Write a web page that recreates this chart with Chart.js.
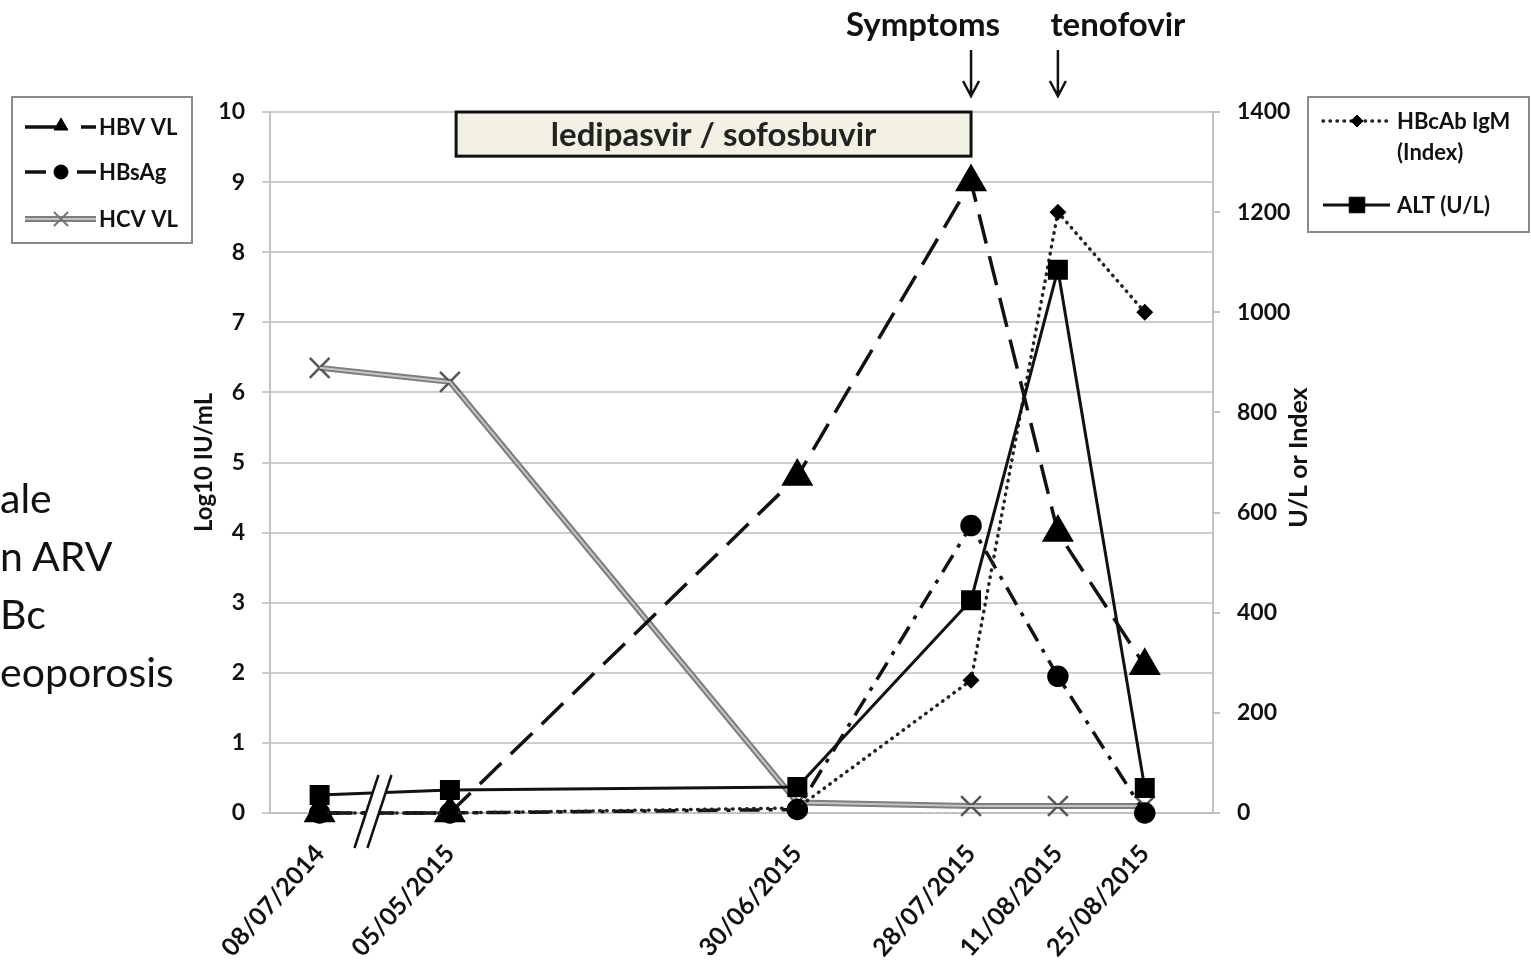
<!DOCTYPE html>
<html lang="en">
<head>
  <meta charset="UTF-8" />
  <title>HBV reactivation during ledipasvir / sofosbuvir</title>
  <script src="https://cdn.jsdelivr.net/npm/chart.js"></script>
  <style>
    body { margin: 0; background: #fff; font-family: Lato, "Open Sans", sans-serif; }
    #wrap { position: absolute; left: 0; top: 0; width: 1531px; height: 967px; overflow: hidden; }
    #side { position: absolute; left: 0; top: 469px; font-size: 41px; line-height: 58px; color: #111; white-space: pre; }
  </style>
</head>
<body>
  <div id="wrap">
    <div id="side">ale
n ARV
Bc
eoporosis</div>
    <canvas id="chart" width="1531" height="967"></canvas>
  </div>

  <script>
    // visit dates, placed on a day axis counted from 05/05/2015
    // (the 2014 visit sits behind the axis break, so it is pulled in)
    const dateLabels = ['08/07/2014', '05/05/2015', '30/06/2015', '28/07/2015', '11/08/2015', '25/08/2015'];
    const dayPos = [-21, 0, 56, 84, 98, 112];

    // left axis, Log10 IU/mL
    const hbvVL = [0, 0, 4.8, 9.0, 4.0, 2.1];
    const hbsAg = [0, 0, 0.05, 4.1, 1.95, 0];
    const hcvVL = [6.35, 6.15, 0.15, 0.1, 0.1, 0.1];

    // right axis, U/L or Index
    const hbcabIgm = [0, 0, 10, 265, 1200, 1000];
    const alt = [36, 46, 52, 425, 1085, 50];

    // therapy period and events, in days
    const therapyFrom = 1, therapyTo = 84;
    const breakAt = -12;

    const pts = vals => vals.map((v, i) => ({ x: dayPos[i], y: v }));
    const sans = 'Lato, "Open Sans", sans-serif';

    const datasets = [
      { label: 'ALT (U/L)', data: pts(alt), yAxisID: 'yR', borderColor: '#111', borderWidth: 3,
        pointStyle: 'rect', pointRadius: 12, pointBackgroundColor: '#000', pointBorderColor: '#000' },
      { label: 'HBcAb IgM (Index)', data: pts(hbcabIgm), yAxisID: 'yR', borderColor: '#222', borderWidth: 3.5,
        borderDash: [0.5, 6.5], borderCapStyle: 'round',
        pointStyle: 'rectRot', pointRadius: 6, pointBackgroundColor: '#000', pointBorderColor: '#000' },
      { label: 'HBV VL', data: pts(hbvVL), yAxisID: 'yL', borderColor: '#111', borderWidth: 3.5,
        borderDash: [30, 13],
        pointStyle: 'triangle', pointRadius: 15, pointBackgroundColor: '#000', pointBorderColor: '#000' },
      { label: 'HBsAg', data: pts(hbsAg), yAxisID: 'yL', borderColor: '#111', borderWidth: 3.5,
        borderDash: [20, 9, 4, 9],
        pointStyle: 'circle', pointRadius: 9, pointBackgroundColor: '#000', pointBorderColor: '#000' },
      { label: 'hcv-inner', data: pts(hcvVL), yAxisID: 'yL', borderColor: '#c4c4c4', borderWidth: 2,
        pointRadius: 0 },
      { label: 'HCV VL', data: pts(hcvVL), yAxisID: 'yL', borderColor: '#7d7d7d', borderWidth: 6,
        pointStyle: 'crossRot', pointRadius: 14, pointBorderWidth: 2.5, pointBorderColor: '#555', pointBackgroundColor: '#555' }
    ];
    datasets.forEach(d => { d.tension = 0; d.clip = false; d.fill = false; });

    function drawMarker(ctx, style, r, x, y, color, bw) {
      ctx.save();
      ctx.fillStyle = color; ctx.strokeStyle = color; ctx.lineWidth = bw;
      Chart.helpers.drawPoint(ctx, { pointStyle: style, radius: r, borderWidth: bw, rotation: 0 }, x, y);
      ctx.restore();
    }

    // legend sample: list of [x0, x1] segments in the dataset's stroke
    function sample(ctx, ds, segs, y, dash) {
      ctx.save();
      ctx.strokeStyle = ds.borderColor;
      ctx.lineWidth = ds.borderWidth;
      ctx.lineCap = ds.borderCapStyle || 'butt';
      ctx.setLineDash(dash || []);
      ctx.beginPath();
      segs.forEach(([a, b]) => { ctx.moveTo(a, y); ctx.lineTo(b, y); });
      ctx.stroke();
      ctx.restore();
    }

    const annotate = {
      id: 'annotate',
      afterDraw(chart) {
        const ctx = chart.ctx;
        const x = chart.scales.x, yL = chart.scales.yL;
        const area = chart.chartArea;
        const y0 = yL.getPixelForValue(0);
        ctx.save();

        // therapy box
        const bx0 = x.getPixelForValue(therapyFrom), bx1 = x.getPixelForValue(therapyTo);
        const by0 = yL.getPixelForValue(10), by1 = yL.getPixelForValue(9.37);
        ctx.fillStyle = '#f3f1e3';
        ctx.fillRect(bx0, by0, bx1 - bx0, by1 - by0);
        ctx.strokeStyle = '#111'; ctx.lineWidth = 3;
        ctx.strokeRect(bx0, by0, bx1 - bx0, by1 - by0);
        ctx.fillStyle = '#222';
        ctx.font = 'bold 33px ' + sans;
        ctx.textAlign = 'center'; ctx.textBaseline = 'middle';
        ctx.fillText('ledipasvir / sofosbuvir', (bx0 + bx1) / 2, (by0 + by1) / 2 + 1);

        // events with arrows
        const events = [
          { text: 'Symptoms', at: dayPos[3], dx: -48 },
          { text: 'tenofovir', at: dayPos[4], dx: 60 }
        ];
        ctx.font = 'bold 33px ' + sans;
        ctx.textBaseline = 'alphabetic';
        events.forEach(ev => {
          const px = x.getPixelForValue(ev.at);
          ctx.fillStyle = '#111';
          ctx.fillText(ev.text, px + ev.dx, 36);
          ctx.strokeStyle = '#111'; ctx.lineWidth = 2.5;
          ctx.beginPath();
          ctx.moveTo(px, 50); ctx.lineTo(px, area.top - 16);
          ctx.moveTo(px - 8, area.top - 31); ctx.lineTo(px, area.top - 16); ctx.lineTo(px + 8, area.top - 31);
          ctx.stroke();
        });

        // axis break
        const kx = x.getPixelForValue(breakAt);
        ctx.fillStyle = '#fff';
        ctx.beginPath();
        ctx.moveTo(kx - 21, y0 + 35); ctx.lineTo(kx + 3, y0 - 38);
        ctx.lineTo(kx + 16, y0 - 38); ctx.lineTo(kx - 8, y0 + 35); ctx.closePath();
        ctx.fill();
        ctx.strokeStyle = '#111'; ctx.lineWidth = 2.5;
        ctx.beginPath();
        ctx.moveTo(kx - 21, y0 + 35); ctx.lineTo(kx + 3, y0 - 38);
        ctx.moveTo(kx - 8, y0 + 35); ctx.lineTo(kx + 16, y0 - 38);
        ctx.stroke();

        // right axis title
        ctx.save();
        ctx.translate(area.right + 86, (area.top + area.bottom) / 2 - 5);
        ctx.rotate(-Math.PI / 2);
        ctx.font = 'bold 25px ' + sans;
        ctx.fillStyle = '#111';
        ctx.textAlign = 'center'; ctx.textBaseline = 'middle';
        ctx.fillText('U/L or Index', 0, 0);
        ctx.restore();

        // legends
        const ds = chart.data.datasets;
        const byLabel = l => ds.find(d => d.label === l);
        ctx.strokeStyle = '#8a8a8a'; ctx.lineWidth = 2;
        ctx.strokeRect(12, 97, 180, 146);
        ctx.strokeRect(1308, 97, 221, 135);
        ctx.font = 'bold 22px ' + sans;
        ctx.textAlign = 'left'; ctx.textBaseline = 'middle';

        const hbv = byLabel('HBV VL'), hbs = byLabel('HBsAg'), hcv = byLabel('HCV VL');
        sample(ctx, hbv, [[25, 60], [81, 96]], 127);
        drawMarker(ctx, 'triangle', 8, 61, 126, '#000', 1);
        sample(ctx, hbs, [[25, 46], [77, 96]], 172);
        drawMarker(ctx, 'circle', 7, 61, 172, '#000', 1);
        sample(ctx, hcv, [[25, 96]], 219);
        sample(ctx, byLabel('hcv-inner'), [[25, 96]], 219);
        drawMarker(ctx, 'crossRot', 10, 61, 219, '#777', 2);
        ctx.fillStyle = '#111';
        ctx.fillText('HBV VL', 99, 128);
        ctx.fillText('HBsAg', 99, 173);
        ctx.fillText('HCV VL', 99, 220);

        const igm = byLabel('HBcAb IgM (Index)'), altDs = byLabel('ALT (U/L)');
        sample(ctx, igm, [[1323, 1390]], 121, igm.borderDash);
        drawMarker(ctx, 'rectRot', 6, 1357, 121, '#000', 1);
        sample(ctx, altDs, [[1323, 1390]], 205);
        drawMarker(ctx, 'rect', 11, 1357, 205, '#000', 1);
        ctx.fillStyle = '#111';
        ctx.fillText('HBcAb IgM', 1397, 122);
        ctx.fillText('(Index)', 1397, 153);
        ctx.fillText('ALT (U/L)', 1397, 206);

        ctx.restore();
      }
    };

    const tickFont = { family: sans, weight: 'bold', size: 23 };

    new Chart(document.getElementById('chart'), {
      type: 'line',
      data: { datasets },
      options: {
        responsive: false,
        animation: false,
        layout: { padding: { left: 180, right: 218, top: 112, bottom: 0 } },
        plugins: { legend: { display: false }, tooltip: { enabled: false } },
        scales: {
          x: {
            type: 'linear', min: -29, max: 123,
            afterBuildTicks: s => { s.ticks = dayPos.map(v => ({ value: v })); },
            afterFit: s => { s.height = 154; },
            grid: { display: false, drawTicks: false },
            border: { display: true, color: '#c2c2c2', width: 2 },
            ticks: {
              autoSkip: false, minRotation: 48, maxRotation: 48, padding: 26,
              color: '#111', font: { family: sans, weight: 'bold', size: 25 },
              callback: (v, i) => dateLabels[i]
            }
          },
          yL: {
            position: 'left', min: 0, max: 10,
            afterFit: s => { s.width = 90; },
            grid: { color: '#cdcdcd', lineWidth: 2, tickLength: 8 },
            border: { color: '#c2c2c2', width: 2 },
            ticks: { stepSize: 1, padding: 17, color: '#111', font: tickFont },
            title: { display: true, text: 'Log10 IU/mL', color: '#111', padding: { top: 10 },
              font: { family: sans, weight: 'bold', size: 24 } }
          },
          yR: {
            position: 'right', min: 0, max: 1400,
            afterFit: s => { s.width = 100; },
            grid: { drawOnChartArea: false, color: '#c2c2c2', lineWidth: 2, tickLength: 7 },
            border: { color: '#c2c2c2', width: 2 },
            ticks: { stepSize: 200, padding: 17, color: '#111', font: tickFont, callback: v => String(v) }
          }
        }
      },
      plugins: [annotate]
    });
  </script>
</body>
</html>
